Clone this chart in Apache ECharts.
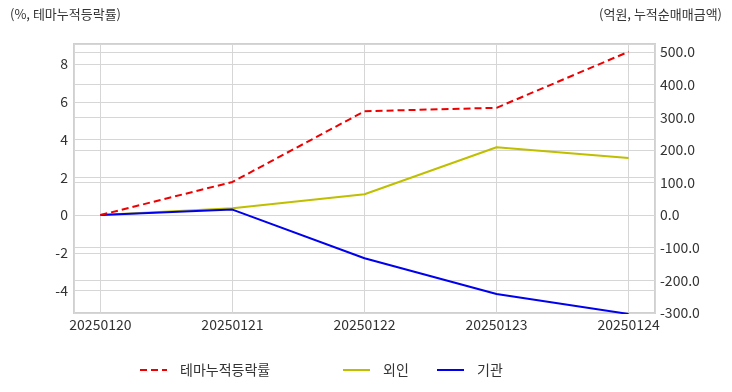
<!DOCTYPE html>
<html><head><meta charset="utf-8">
<script src="https://cdn.jsdelivr.net/npm/echarts@6/dist/echarts.min.js"></script>
<style>html,body{margin:0;padding:0;background:#fff}#c{width:732px;height:392px}</style>
</head><body><div id="c"></div>
<script>
const categories = ['20250120','20250121','20250122','20250123','20250124'];
const themeRate = [0, 1.75, 5.5, 5.68, 8.65];
const foreign = [0, 21, 64, 208, 175];
const institution = [0, 17, -132, -242, -303];
const leftTicks = [-4,-2,0,2,4,6,8];
const rightTicks = [-300,-200,-100,0,100,200,300,400,500];

const FONT = '"Noto Sans CJK KR", "Noto Sans", sans-serif';
const pts = arr => arr.map((v,i)=>[i,v]);
const chart = echarts.init(document.getElementById('c'));
const legendBase = {top:358, itemWidth:27, itemHeight:14, itemStyle:{opacity:0},
  textStyle:{fontSize:14,color:'#333',padding:[0,0,0,8]}};
chart.setOption({
  animation:false,
  textStyle:{fontFamily:FONT},
  graphic:[
    {type:'text', left:10, top:8, style:{text:'(%, 테마누적등락률)', font:'13px '+FONT, fill:'#333'}},
    {type:'text', right:10, top:8, style:{text:'(억원, 누적순매매금액)', font:'13px '+FONT, fill:'#333'}}
  ],
  grid:{left:74, right:77, top:44, bottom:79, show:true, borderColor:'#d0d0d0', borderWidth:2},
  xAxis:{type:'value', min:-0.2, max:4.2, minInterval:1, maxInterval:1,
    axisLine:{show:false}, axisTick:{show:false},
    splitLine:{show:true, lineStyle:{color:'#d6d6d6', width:1}},
    axisLabel:{color:'#333', fontSize:14, margin:5, showMinLabel:false, showMaxLabel:false,
      formatter:v=>Number.isInteger(v)&&categories[v]!==undefined?categories[v]:''}},
  yAxis:[
    {type:'value', min:-5.19, max:9.06, minInterval:2, maxInterval:2,
     axisLine:{show:false}, axisTick:{show:false},
     splitLine:{show:true, lineStyle:{color:'#d6d6d6'}},
     axisLabel:{color:'#333', fontSize:14, margin:6,
       formatter:v=>leftTicks.includes(v)?String(v):''}},
    {type:'value', min:-300, max:524.5, minInterval:100, maxInterval:100, position:'right',
     axisLine:{show:false}, axisTick:{show:false},
     splitLine:{show:true, lineStyle:{color:'#d6d6d6'}},
     axisLabel:{color:'#333', fontSize:14, margin:5,
       formatter:v=>rightTicks.includes(v)?v.toFixed(1):''}}
  ],
  legend:[
    Object.assign({data:['테마누적등락률'], left:134}, legendBase),
    Object.assign({data:['외인'], left:337}, legendBase),
    Object.assign({data:['기관'], left:431}, legendBase)
  ],
  series:[
    {name:'테마누적등락률', type:'line', yAxisIndex:0, data:pts(themeRate), symbol:'none',
     lineStyle:{color:'#ee0000', width:2, type:[7,4]}, itemStyle:{color:'#ee0000'}, z:3},
    {name:'외인', type:'line', yAxisIndex:1, data:pts(foreign), symbol:'none',
     lineStyle:{color:'#bfbf00', width:2}, itemStyle:{color:'#bfbf00'}, z:2},
    {name:'기관', type:'line', yAxisIndex:1, data:pts(institution), symbol:'none',
     lineStyle:{color:'#0000ee', width:2}, itemStyle:{color:'#0000ee'}, z:2}
  ]
});
</script></body></html>
